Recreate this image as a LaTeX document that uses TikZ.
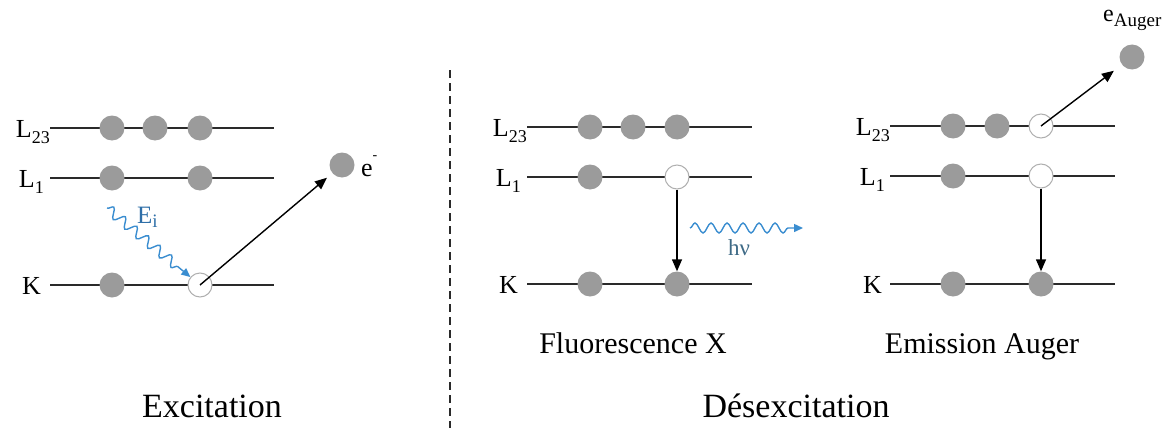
\documentclass[tikz,border=0pt]{standalone}
\usepackage{fontspec}
\setmainfont{Liberation Serif}
\usetikzlibrary{arrows.meta,decorations.pathmorphing}
\definecolor{elgray}{HTML}{9B9B9B}
\definecolor{wave}{HTML}{3A8DD0}
\definecolor{wavetxt}{HTML}{2F6FA8}
\definecolor{hvtxt}{HTML}{3E6A86}
\definecolor{lvlcol}{HTML}{2A2A2A}
\newcommand{\fsz}[1]{\fontsize{#1}{#1}\selectfont}
\begin{document}
\begin{tikzpicture}[x=1pt,y=-1pt,
  levelline/.style={draw=lvlcol,line width=1.8pt},
  elec/.style={circle,fill=elgray,minimum size=25pt,inner sep=0pt},
  hole/.style={circle,fill=white,draw=elgray!80,line width=1pt,minimum size=24pt,inner sep=0pt},
  lvllabel/.style={inner sep=0pt,font=\fsz{26}},
  jump/.style={draw=black,line width=1.4pt,-{Triangle[length=12pt,width=10pt]}},
  photon/.style={draw=wave,line width=1.4pt,decorate,decoration={snake,segment length=15pt,amplitude=5pt,post length=10pt}},
  caption/.style={inner sep=0pt,font=\fsz{30}},
  titletext/.style={inner sep=0pt,font=\fsz{34}}]
\useasboundingbox (0,0) rectangle (1166,428);

% ---------- Excitation panel ----------
\draw[levelline] (50,128) coordinate (aL23s) -- (274,128) coordinate (aL23e);
\draw[levelline] (50,178) coordinate (aL1s) -- (274,178) coordinate (aL1e);
\draw[levelline] (50,285) coordinate (aKs) -- (274,285) coordinate (aKe);
\node[lvllabel,anchor=base east] (aL23) at (50,137) {L\raisebox{-6pt}{\fsz{18}23}};
\node[lvllabel,anchor=base east] (aL1) at (44,187) {L\raisebox{-6pt}{\fsz{18}1}};
\node[lvllabel,anchor=base east] (aK) at (41,294) {K};
\node[elec] (a23a) at (112,128) {};
\node[elec] (a23b) at (155,128) {};
\node[elec] (a23c) at (200,128) {};
\node[elec] (a1a) at (112,178) {};
\node[elec] (a1b) at (200,178) {};
\node[elec] (aKa) at (112,285) {};
\node[hole] (aKh) at (200,285) {};
\node[elec] (eout) at (342,165) {};
\node[anchor=base west,inner sep=0pt,font=\fsz{26}] (elbl) at (361,176) {e\raisebox{17pt}{\fsz{14}-}};
\draw[jump,shorten >=7pt] (aKh.center) -- (eout);
\coordinate (wstart) at (107,208);
\draw[photon,-{Triangle[length=9pt,width=8pt]}] (wstart) -- (aKh);
\node[anchor=base west,inner sep=0pt,text=wavetxt,font=\fsz{25}] (Ei) at (137,223) {E\raisebox{-4pt}{\fsz{19}i}};
\node[titletext,anchor=base] (exc) at (212,417) {Excitation};

% ---------- separator ----------
\draw[draw=lvlcol,line width=2pt,dash pattern=on 8pt off 5pt] (450,70) coordinate (dtop) -- (450,428) coordinate (dbot);

% ---------- Fluorescence X panel ----------
\draw[levelline] (527,127) coordinate (bL23s) -- (752,127) coordinate (bL23e);
\draw[levelline] (527,177) coordinate (bL1s) -- (752,177) coordinate (bL1e);
\draw[levelline] (527,284) coordinate (bKs) -- (752,284) coordinate (bKe);
\node[lvllabel,anchor=base east] (bL23) at (527,136) {L\raisebox{-6pt}{\fsz{18}23}};
\node[lvllabel,anchor=base east] (bL1) at (521,186) {L\raisebox{-6pt}{\fsz{18}1}};
\node[lvllabel,anchor=base east] (bK) at (518,293) {K};
\node[elec] (b23a) at (590,127) {};
\node[elec] (b23b) at (633,127) {};
\node[elec] (b23c) at (677,127) {};
\node[elec] (b1a) at (590,177) {};
\node[hole] (b1h) at (677,177) {};
\node[elec] (bKa) at (590,284) {};
\node[elec] (bKb) at (677,284) {};
\draw[jump] (b1h.south) -- (bKb.north);
\coordinate (hvs) at (690,228);
\coordinate (hve) at (803,228);
\draw[photon,decoration={snake,segment length=16pt,amplitude=5pt,post length=12pt},-{Triangle[length=9pt,width=8pt]}] (hvs) -- (hve);
\node[anchor=base west,inner sep=0pt,text=hvtxt,font=\fsz{23}] (hv) at (728,255) {hν};
\node[caption,anchor=base] (fx) at (633,353) {Fluorescence X};

% ---------- Emission Auger panel ----------
\draw[levelline] (890,126) coordinate (cL23s) -- (1115,126) coordinate (cL23e);
\draw[levelline] (890,176) coordinate (cL1s) -- (1115,176) coordinate (cL1e);
\draw[levelline] (890,284) coordinate (cKs) -- (1115,284) coordinate (cKe);
\node[lvllabel,anchor=base east] (cL23) at (890,135) {L\raisebox{-6pt}{\fsz{18}23}};
\node[lvllabel,anchor=base east] (cL1) at (885,185) {L\raisebox{-6pt}{\fsz{18}1}};
\node[lvllabel,anchor=base east] (cK) at (882,293) {K};
\node[elec] (c23a) at (953,126) {};
\node[elec] (c23b) at (997,126) {};
\node[hole] (c23h) at (1041,126) {};
\node[elec] (c1a) at (953,176) {};
\node[hole] (c1h) at (1041,176) {};
\node[elec] (cKa) at (953,284) {};
\node[elec] (cKb) at (1041,284) {};
\draw[jump] (c1h.south) -- (cKb.north);
\node[elec] (aug) at (1132,57) {};
\draw[jump,shorten >=10pt] (c23h.center) -- (aug);
\node[anchor=base west,inner sep=0pt,font=\fsz{24}] (auglbl) at (1103,22) {e\raisebox{-5pt}{\fsz{19}Auger}};
\node[caption,anchor=base] (ea) at (982,353) {Emission Auger};

\node[titletext,anchor=base] (desc) at (796,417) {Désexcitation};
\end{tikzpicture}
\end{document}
